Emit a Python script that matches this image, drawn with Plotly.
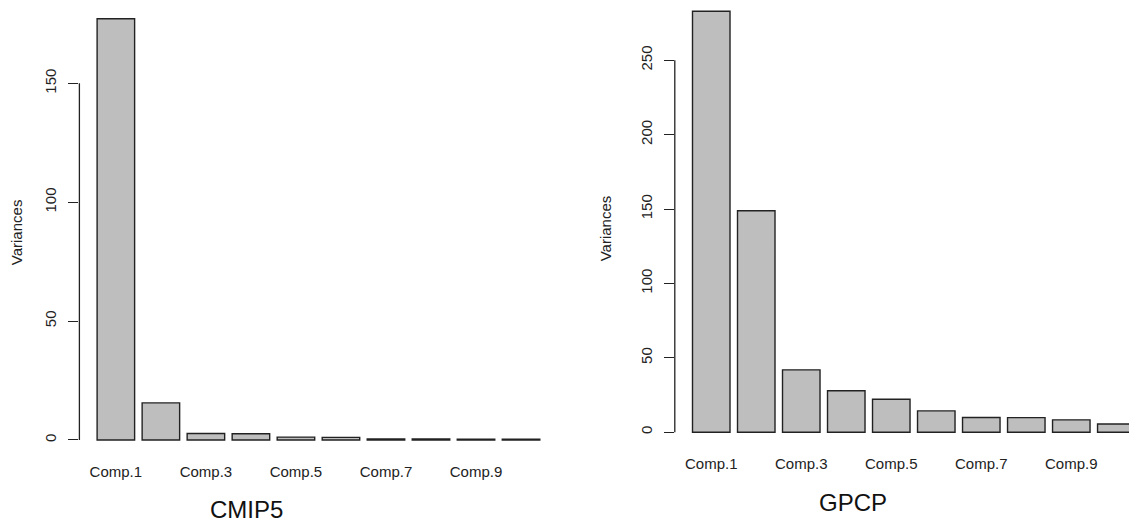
import plotly.graph_objects as go

categories = ["Comp.1", "Comp.2", "Comp.3", "Comp.4", "Comp.5",
              "Comp.6", "Comp.7", "Comp.8", "Comp.9", "Comp.10"]
cmip5_var = [177.2, 15.6, 2.7, 2.6, 1.2, 1.1, 0.4, 0.4, 0.3, 0.3]
gpcp_var = [282.9, 148.8, 41.9, 27.9, 22.1, 14.3, 9.9, 9.8, 8.3, 5.5]
shown_labels = categories[::2]
cmip5_ticks = [0, 50, 100, 150]
gpcp_ticks = [0, 50, 100, 150, 200, 250]

W, H = 1137, 522
O = 8  # page body margin offset
FW, FH = W - O, H - O
FONT = "Liberation Sans, Arial, sans-serif"
TXT = "#222222"

fig = go.Figure()
bar_style = dict(marker=dict(color="#BEBEBE", line=dict(color="#222222", width=1.4)),
                 showlegend=False, hoverinfo="x+y")
fig.add_trace(go.Bar(x=categories, y=cmip5_var, xaxis="x", yaxis="y", **bar_style))
fig.add_trace(go.Bar(x=categories, y=gpcp_var, xaxis="x2", yaxis="y2", **bar_style))


def px_x(p):
    return min(max((p - O) / FW, 0.0), 1.0)


def px_y(p):
    return min(max(1 - (p - O) / FH, 0.0), 1.0)


xcommon = dict(type="category", categoryorder="array", categoryarray=categories,
               tickmode="array", tickvals=shown_labels, ticktext=shown_labels,
               showline=False, showgrid=False, zeroline=False, ticks="",
               tickfont=dict(family=FONT, size=15, color=TXT), ticklabelstandoff=4)
ycommon = dict(showline=False, showgrid=False, zeroline=False, ticks="outside",
               ticklen=10, tickwidth=1.3, tickcolor="#222222", tickangle=-90,
               tickfont=dict(family=FONT, size=15, color=TXT), ticklabelstandoff=6,
               title=dict(text="Variances", font=dict(family=FONT, size=15, color=TXT),
                          standoff=22))

fig.update_layout(
    width=FW, height=FH,
    margin=dict(l=0, r=0, t=0, b=0),
    paper_bgcolor="white", plot_bgcolor="white",
    bargap=0.2 / 1.2,
    xaxis=dict(domain=[px_x(79.4), px_x(557.5)], range=[-0.81, 9.81], anchor="y", **xcommon),
    yaxis=dict(domain=[px_y(456.8), px_y(8)], range=[-7.08, 181.7], anchor="x",
               tickvals=cmip5_ticks, **ycommon),
    xaxis2=dict(domain=[px_x(674.8), 1.0], range=[-0.81, 9.46], anchor="y2", **xcommon),
    yaxis2=dict(domain=[px_y(449.0), px_y(8)], range=[-11.3, 285.1], anchor="x2",
                tickvals=gpcp_ticks, **ycommon),
    shapes=[
        dict(type="line", xref="x domain", yref="y", x0=0, x1=0,
             y0=cmip5_ticks[0], y1=cmip5_ticks[-1], line=dict(color="#222222", width=1.3)),
        dict(type="line", xref="x2 domain", yref="y2", x0=0, x1=0,
             y0=gpcp_ticks[0], y1=gpcp_ticks[-1], line=dict(color="#222222", width=1.3)),
    ],
    annotations=[
        dict(text="CMIP5", x=px_x(247), y=px_y(509), xref="paper", yref="paper",
             showarrow=False, xanchor="center", yanchor="middle",
             font=dict(family=FONT, size=24, color="#111111")),
        dict(text="GPCP", x=px_x(853), y=px_y(502), xref="paper", yref="paper",
             showarrow=False, xanchor="center", yanchor="middle",
             font=dict(family=FONT, size=24, color="#111111")),
    ],
)

fig.write_html("out.html")
